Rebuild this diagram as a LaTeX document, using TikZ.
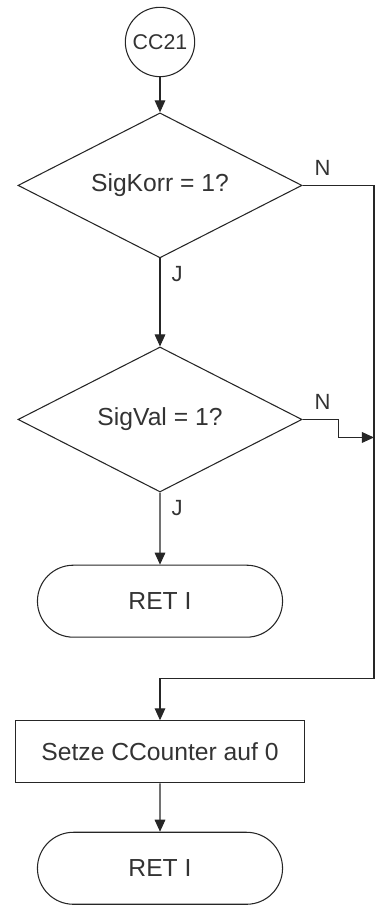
\documentclass[tikz,border=0pt]{standalone}
\usepackage{fontspec}
\setmainfont{Liberation Sans}
\usetikzlibrary{shapes.geometric,shapes.misc,arrows.meta}

\begin{document}
\begin{tikzpicture}[
>={Triangle[length=9pt,width=8pt]},
conn/.style={draw=black!85, line width=0.8pt},
start/.style={circle, draw=black!85, line width=0.8pt, text=black!80, minimum size=52pt, inner sep=0pt, font=\fontsize{16pt}{19pt}\selectfont},
decision/.style={diamond, aspect=2, draw=black!85, line width=0.8pt, text=black!80, minimum width=213pt, minimum height=108.75pt, inner sep=0pt, font=\fontsize{18.5pt}{22pt}\selectfont},
ret/.style={rounded rectangle, draw=black!85, line width=0.8pt, text=black!80, minimum width=190.5pt, minimum height=54pt, font=\fontsize{18.5pt}{22pt}\selectfont},
block/.style={rectangle, draw=black!85, line width=0.8pt, text=black!80, minimum width=216.75pt, minimum height=46.5pt, font=\fontsize{18.5pt}{22pt}\selectfont},
answer/.style={text=black!80, inner sep=0pt, font=\fontsize{16.5pt}{19pt}\selectfont}
]
\useasboundingbox (-120pt,-647.25pt) rectangle (162.75pt,31.5pt);
%Nodes
\node[start]     (c)                                      {CC21};
\node[decision]  (d1)    [below of = c, yshift= -2.78cm]   {SigKorr = 1?};
\node[decision]  (d2)    [below of = d1, yshift= -5.17cm]  {SigVal = 1?};
\node[ret]       (r1)    [below of = d2, yshift= -3.79cm]  {RET I};
\node[block]     (b1)    [below of = r1, yshift= -2.97cm]  {Setze CCounter auf 0};
\node[ret]       (r2)    [below of = b1, yshift= -2.07cm]  {RET I};
%Bends
\node[coordinate] (k1)   [right of = d1, xshift= 4.64cm] {};
\node[coordinate] (k2)   [above of = b1, yshift= 0.93cm] {};
\node[coordinate] (k3)   [right of = d2, xshift= 4.64cm, yshift= -13.5pt] {};
%Lines
\draw[->, conn] (c) -- (d1);
\draw[->, conn] (d1.south) node[answer, xshift=12.75pt, yshift=-12pt] (j1) {J} -- (d2);
\draw[->, conn] (d1.east) node[answer, xshift=15pt, yshift=13pt] (n1) {N} -- (k1) |- (k2) -- (b1);
\draw[->, conn] (d2.east) node[answer, xshift=15pt, yshift=13.5pt] (n2) {N} -- ++(27pt,0) |- (k3);
\draw[->, conn] (d2.south) node[answer, xshift=12.75pt, yshift=-12pt] (j2) {J} -- (r1);
\draw[->, conn] (b1) -- (r2);
\end{tikzpicture}
\end{document}
